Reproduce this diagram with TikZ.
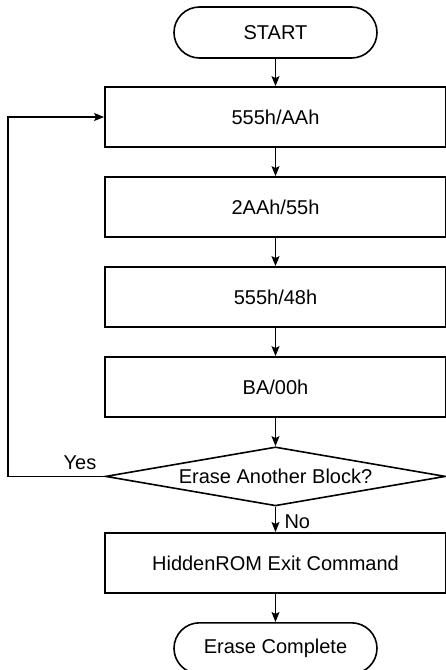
\documentclass[tikz,border=0pt]{standalone}
\usepackage{fontspec}
\setmainfont{Liberation Sans}
\usetikzlibrary{shapes.geometric, arrows.meta, positioning}
\tikzset{
  term/.style={
    rectangle, rounded corners=25.5pt, minimum width=203pt,
    minimum height=51pt, draw=black, line width=1.6pt, text centered
  },
  block/.style={
    rectangle, minimum width=341pt, minimum height=60pt,
    draw=black, line width=1.8pt, text centered
  },
  decide/.style={
    diamond, aspect=5.7, inner sep=0pt, minimum width=340pt,
    minimum height=59pt, draw=black, line width=1.6pt
  },
  arrow/.style={-{Stealth[length=10pt,width=8pt,inset=2pt]}, line width=1.1pt}
}

\begin{document}
\begin{tikzpicture}[x=1pt, y=-1pt, node distance=28.2pt, font=\fontsize{20}{24}\selectfont]
  \useasboundingbox (0,0) rectangle (445,670);
  \node[term]  (start) at (275.5,32.5) {START};
  \node[block, below=27.3pt of start] (w1) {555h/AAh};
  \node[block, below=of w1] (w2) {2AAh/55h};
  \node[block, below=of w2] (w3) {555h/48h};
  \node[block, below=of w3] (w4) {BA/00h};
  \node[decide, below=of w4] (more) {Erase Another Block?};
  \node[block, below=25.3pt of more] (exit) {HiddenROM Exit Command};
  \node[term, below=of exit] (done) {Erase Complete};
  \coordinate (back) at (8,0);

  \foreach \from/\to in {start/w1,w1/w2,w2/w3,w3/w4,w4/more,more/exit,exit/done}
    \draw[arrow] (\from) -- (\to);
  \draw[arrow] (more.west) -- (more.west -| back) |- (w1.west);

  \node (yes) at (80,463) {Yes};
  \node[right] (no) at (281,522) {No};
\end{tikzpicture}
\end{document}
